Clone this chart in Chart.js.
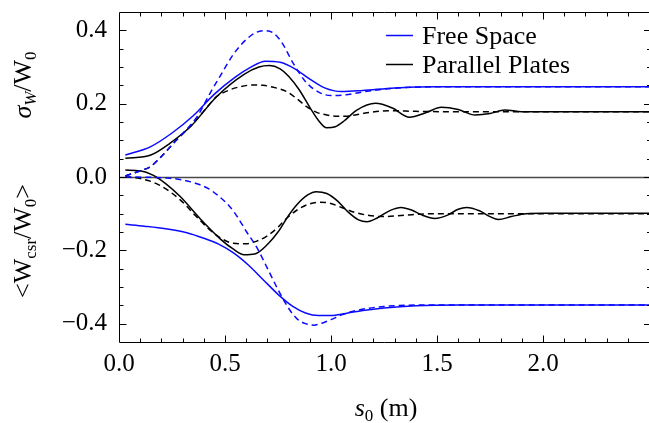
<!DOCTYPE html>
<html>
<head>
<meta charset="utf-8">
<script src="https://cdn.jsdelivr.net/npm/chart.js@4.4.1/dist/chart.umd.min.js"></script>
<style>
html, body { margin: 0; padding: 0; background: #fff; }
</style>
</head>
<body>
<canvas id="chart" width="649" height="423"></canvas>
<script>
document.addEventListener("DOMContentLoaded", function() {

    // ---------- data ----------
    var legendLabels = ['Free Space', 'Parallel Plates'];
    var xTickVals = [0, 0.5, 1.0, 1.5, 2.0];
    var yTickVals = [-0.4, -0.2, 0.0, 0.2, 0.4];

    // sigma_W / W0, free space (solid)
    var sigFsX = [0.03, 0.15, 0.25, 0.35, 0.45, 0.55, 0.62, 0.69, 0.76, 0.83, 0.9, 0.97, 1.05, 1.15, 1.3, 1.5, 1.8, 2.5];
    var sigFsY = [0.060, 0.083, 0.120, 0.167, 0.226, 0.273, 0.299, 0.316, 0.313, 0.295, 0.267, 0.243, 0.233, 0.236, 0.243, 0.246, 0.246, 0.246];
    // sigma_W / W0, free space (dashed)
    var sigFsdX = [0.03, 0.1, 0.15, 0.2, 0.27, 0.37, 0.43, 0.48, 0.54, 0.6, 0.65, 0.69, 0.73, 0.77, 0.82, 0.88, 0.94, 1.0, 1.07, 1.15, 1.3, 1.5, 2.5];
    var sigFsdY = [0.003, 0.017, 0.029, 0.056, 0.100, 0.166, 0.229, 0.278, 0.335, 0.375, 0.395, 0.399, 0.392, 0.365, 0.312, 0.260, 0.232, 0.222, 0.224, 0.232, 0.242, 0.246, 0.246];
    // sigma_W / W0, parallel plates (solid)
    var sigPpX = [0.03, 0.15, 0.24, 0.34, 0.46, 0.59, 0.66, 0.71, 0.76, 0.8, 0.85, 0.9, 0.94, 0.98, 1.02, 1.06, 1.12, 1.21, 1.29, 1.37, 1.45, 1.52, 1.6, 1.68, 1.75, 1.82, 1.9, 2.0, 2.5];
    var sigPpY = [0.051, 0.060, 0.092, 0.139, 0.219, 0.280, 0.300, 0.304, 0.295, 0.275, 0.238, 0.190, 0.155, 0.134, 0.137, 0.152, 0.182, 0.201, 0.188, 0.163, 0.176, 0.190, 0.184, 0.169, 0.173, 0.183, 0.178, 0.178, 0.178];
    // sigma_W / W0, parallel plates (dashed)
    var sigPpdX = [0.03, 0.1, 0.15, 0.2, 0.27, 0.34, 0.4, 0.46, 0.52, 0.57, 0.63, 0.68, 0.74, 0.79, 0.84, 0.885, 0.93, 0.98, 1.03, 1.07, 1.12, 1.17, 1.28, 1.4, 1.6, 2.5];
    var sigPpdY = [0.003, 0.017, 0.029, 0.056, 0.100, 0.140, 0.180, 0.219, 0.237, 0.246, 0.251, 0.250, 0.243, 0.233, 0.213, 0.192, 0.177, 0.169, 0.166, 0.166, 0.170, 0.175, 0.181, 0.179, 0.178, 0.178];

    // <W_csr / W0>, free space (solid)
    var wFsX = [0.03, 0.12, 0.22, 0.32, 0.4, 0.47, 0.54, 0.61, 0.68, 0.75, 0.82, 0.88, 0.94, 1.0, 1.07, 1.15, 1.25, 1.4, 1.6, 2.5];
    var wFsY = [-0.129, -0.134, -0.141, -0.152, -0.167, -0.183, -0.207, -0.240, -0.280, -0.320, -0.353, -0.371, -0.378, -0.378, -0.372, -0.364, -0.357, -0.351, -0.349, -0.349];
    // <W_csr / W0>, free space (dashed)
    var wFsdX = [0.03, 0.15, 0.23, 0.3, 0.36, 0.42, 0.47, 0.52, 0.56, 0.6, 0.65, 0.7, 0.75, 0.8, 0.84, 0.88, 0.92, 0.96, 1.0, 1.05, 1.12, 1.25, 1.5, 2.5];
    var wFsdY = [0.0, -0.001, -0.003, -0.008, -0.017, -0.031, -0.052, -0.079, -0.110, -0.148, -0.192, -0.249, -0.307, -0.358, -0.387, -0.400, -0.404, -0.398, -0.389, -0.376, -0.364, -0.353, -0.349, -0.349];
    // <W_csr / W0>, parallel plates (solid)
    var wPpX = [0.03, 0.1, 0.16, 0.22, 0.29, 0.38, 0.48, 0.54, 0.59, 0.64, 0.7, 0.75, 0.8, 0.84, 0.89, 0.93, 0.98, 1.03, 1.08, 1.13, 1.17, 1.22, 1.28, 1.33, 1.38, 1.43, 1.49, 1.55, 1.6, 1.64, 1.7, 1.75, 1.79, 1.85, 1.92, 2.0, 2.5];
    var wPpY = [0.019, 0.017, 0.005, -0.018, -0.054, -0.112, -0.170, -0.197, -0.212, -0.210, -0.184, -0.150, -0.105, -0.075, -0.049, -0.040, -0.045, -0.065, -0.095, -0.117, -0.122, -0.111, -0.091, -0.083, -0.090, -0.104, -0.113, -0.104, -0.088, -0.083, -0.092, -0.108, -0.116, -0.108, -0.100, -0.099, -0.099];
    // <W_csr / W0>, parallel plates (dashed)
    var wPpdX = [0.03, 0.1, 0.19, 0.29, 0.36, 0.43, 0.49, 0.54, 0.6, 0.65, 0.7, 0.75, 0.79, 0.84, 0.89, 0.94, 0.99, 1.05, 1.11, 1.18, 1.25, 1.35, 1.5, 2.5];
    var wPpdY = [0.0, -0.004, -0.022, -0.063, -0.105, -0.145, -0.170, -0.181, -0.182, -0.175, -0.160, -0.137, -0.113, -0.090, -0.075, -0.069, -0.071, -0.083, -0.096, -0.105, -0.108, -0.104, -0.100, -0.100];

    var BLUE = '#0a0aff';
    var BLACK = '#000000';
    var SERIF = '"Liberation Serif", "DejaVu Serif", serif';

    function pts(xs, ys) {
        return xs.map(function(x, i) { return {x: x, y: ys[i]}; });
    }
    function line(label, xs, ys, color, dashed) {
        return {
            label: label,
            data: pts(xs, ys),
            borderColor: color,
            borderWidth: 1.5,
            borderDash: dashed ? [6, 4] : [],
            pointRadius: 0,
            fill: false,
            cubicInterpolationMode: 'monotone'
        };
    }

    function fmt(v) {
        return v.toFixed(1).replace('-', '\u2212');
    }

    // ---------- frame, ticks, zero line, legend, titles ----------
    var decor = {
        id: 'decor',
        beforeDatasetsDraw: function(chart) {
            var ctx = chart.ctx, a = chart.chartArea;
            var y0 = Math.round(chart.scales.y.getPixelForValue(0)) + 0.5;
            ctx.save();
            ctx.strokeStyle = '#4a4a4a';
            ctx.lineWidth = 1.4;
            ctx.beginPath();
            ctx.moveTo(a.left, y0);
            ctx.lineTo(a.right, y0);
            ctx.stroke();
            ctx.restore();
        },
        afterDraw: function(chart) {
            var ctx = chart.ctx, a = chart.chartArea;
            var xs = chart.scales.x, ys = chart.scales.y;
            var L = Math.round(a.left) + 0.5, T = Math.round(a.top) + 0.5, B = Math.round(a.bottom) + 0.5, R = a.right;
            ctx.save();
            ctx.strokeStyle = '#000';
            ctx.lineWidth = 1;
            ctx.beginPath();
            ctx.moveTo(R, T); ctx.lineTo(L, T); ctx.lineTo(L, B); ctx.lineTo(R, B);
            ctx.stroke();

            // x ticks every 0.1, major every 0.5
            ctx.beginPath();
            for (var i = 1; i <= 25; i++) {
                var v = i / 10;
                var px = Math.round(xs.getPixelForValue(v)) + 0.5;
                if (px > a.right) continue;
                var len = (i % 5 === 0) ? 7 : 4;
                ctx.moveTo(px, B); ctx.lineTo(px, B - len);
                ctx.moveTo(px, T); ctx.lineTo(px, T + len);
            }
            // y ticks every 0.05, major every 0.2
            for (var j = -8; j <= 8; j++) {
                var vy = j * 0.05;
                var py = Math.round(ys.getPixelForValue(vy)) + 0.5;
                var lenY = (j % 4 === 0) ? 7 : 4;
                ctx.moveTo(L, py); ctx.lineTo(L + lenY, py);
                ctx.moveTo(a.right + 2, py); ctx.lineTo(a.right + 2 - lenY, py);
            }
            ctx.stroke();

            // legend
            ctx.font = '26px ' + SERIF;
            ctx.textBaseline = 'alphabetic';
            ctx.textAlign = 'left';
            var rows = [{y: 35.5, color: BLUE}, {y: 64.5, color: BLACK}];
            rows.forEach(function(r, k) {
                ctx.strokeStyle = r.color;
                ctx.lineWidth = 1.5;
                ctx.beginPath();
                ctx.moveTo(386, r.y); ctx.lineTo(413, r.y);
                ctx.stroke();
                ctx.fillStyle = '#000';
                ctx.fillText(legendLabels[k], 422, r.y + 8);
            });

            // rich text helper: parts drawn along baseline
            function rich(parts) {
                var w = 0;
                parts.forEach(function(p) { ctx.font = p.f; w += ctx.measureText(p.t).width; });
                return w;
            }
            function drawRich(parts, x, y) {
                var cx = x;
                parts.forEach(function(p) {
                    ctx.font = p.f;
                    ctx.fillText(p.t, cx, y + (p.dy || 0));
                    cx += ctx.measureText(p.t).width;
                });
            }
            var big = '26px ' + SERIF, bigI = 'italic 26px ' + SERIF;
            var sub = '17px ' + SERIF, subI = 'italic 17px ' + SERIF;
            ctx.fillStyle = '#000';

            // x title
            var xt = [{t: 's', f: bigI}, {t: '0', f: sub, dy: 5}, {t: ' (m)', f: big}];
            drawRich(xt, 386 - rich(xt) / 2, 416);

            // y titles (rotated)
            var t1 = [{t: '\u03C3', f: bigI}, {t: 'W', f: subI, dy: 5}, {t: '/W', f: big}, {t: '0', f: sub, dy: 5}];
            var t2 = [{t: '<W', f: big}, {t: 'csr', f: sub, dy: 5}, {t: '/W', f: big}, {t: '0', f: sub, dy: 5}, {t: '>', f: big}];
            ctx.save();
            ctx.translate(31, 85);
            ctx.rotate(-Math.PI / 2);
            drawRich(t1, -rich(t1) / 2, 0);
            ctx.restore();
            ctx.save();
            ctx.translate(31, 241);
            ctx.rotate(-Math.PI / 2);
            drawRich(t2, -rich(t2) / 2, 0);
            ctx.restore();

            ctx.restore();
        }
    };

    var ctx = document.getElementById('chart').getContext('2d');
    new Chart(ctx, {
        type: 'line',
        data: {
            datasets: [
                line('sigma free space dashed', sigFsdX, sigFsdY, BLUE, true),
                line('sigma plates dashed', sigPpdX, sigPpdY, BLACK, true),
                line('W free space dashed', wFsdX, wFsdY, BLUE, true),
                line('W plates dashed', wPpdX, wPpdY, BLACK, true),
                line(legendLabels[0], sigFsX, sigFsY, BLUE, false),
                line(legendLabels[1], sigPpX, sigPpY, BLACK, false),
                line('W free space', wFsX, wFsY, BLUE, false),
                line('W plates', wPpX, wPpY, BLACK, false)
            ]
        },
        options: {
            responsive: false,
            animation: false,
            layout: { padding: { top: 12, right: 0, bottom: 0, left: 0 } },
            plugins: {
                legend: { display: false },
                tooltip: { enabled: false }
            },
            scales: {
                x: {
                    type: 'linear', min: 0, max: 2.5,
                    grid: { display: false, drawTicks: false },
                    border: { display: false },
                    ticks: {
                        autoSkip: false, maxRotation: 0, padding: 7,
                        color: '#000', font: { family: SERIF, size: 25 },
                        callback: function(v) { return fmt(v); }
                    },
                    afterBuildTicks: function(s) {
                        s.ticks = xTickVals.map(function(v) { return {value: v}; });
                    },
                    afterFit: function(s) {
                        s.height = 81;
                        s.paddingLeft = 0; s.paddingRight = 0;
                    }
                },
                y: {
                    min: -0.45, max: 0.45,
                    grid: { display: false, drawTicks: false },
                    border: { display: false },
                    ticks: {
                        autoSkip: false, padding: 12,
                        color: '#000', font: { family: SERIF, size: 25 },
                        callback: function(v) { return fmt(v); }
                    },
                    afterBuildTicks: function(s) {
                        s.ticks = yTickVals.map(function(v) { return {value: v}; });
                    },
                    afterFit: function(s) {
                        s.width = 119;
                        s.paddingTop = 0; s.paddingBottom = 0;
                    }
                }
            }
        },
        plugins: [decor]
    });
});
</script>
</body>
</html>
